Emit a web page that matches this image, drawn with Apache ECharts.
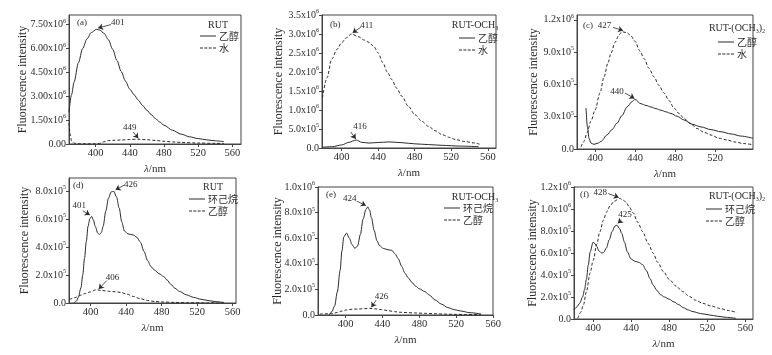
<!DOCTYPE html>
<html>
<head>
<meta charset="utf-8">
<script src="https://cdn.jsdelivr.net/npm/echarts@6/dist/echarts.min.js"></script>
<style>
    html, body { margin: 0; padding: 0; background: #fff; }
    #chart { width: 772px; height: 355px; }
</style>
</head>
<body>
<div id="chart"></div>
<script>
    // wavelength ticks per panel
    const xTicksA = [400, 440, 480, 520, 560]
    const xTicksC = [400, 440, 480, 520]
    // y tick values per panel
    const yTicksA = [0, 1.5e6, 3.0e6, 4.5e6, 6.0e6, 7.5e6]
    const yTicksB = [0, 0.5e6, 1.0e6, 1.5e6, 2.0e6, 2.5e6, 3.0e6, 3.5e6]
    const yTicksC = [0, 0.3e6, 0.6e6, 0.9e6, 1.2e6]
    const yTicksD = [0, 2e5, 4e5, 6e5, 8e5]
    const yTicksE = [0, 2e5, 4e5, 6e5, 8e5, 1e6]
    const yTicksF = [0, 2e5, 4e5, 6e5, 8e5, 1e6, 1.2e6]

    // (a) RUT
    const aEthanol = [[369, 2.0e6], [372, 3.1e6], [375, 3.9e6], [380, 5.1e6], [385, 6.0e6], [390, 6.6e6], [395, 7.0e6], [401, 7.2e6], [405, 7.15e6], [410, 6.95e6], [415, 6.55e6], [420, 5.95e6], [425, 5.25e6], [430, 4.55e6], [435, 3.95e6], [440, 3.45e6], [445, 3.1e6], [450, 2.75e6], [455, 2.42e6], [460, 2.12e6], [465, 1.85e6], [470, 1.6e6], [475, 1.38e6], [480, 1.18e6], [490, 0.86e6], [500, 0.62e6], [510, 0.45e6], [520, 0.34e6], [530, 0.26e6], [540, 0.2e6], [550, 0.15e6]]
    const aWater = [[369, 1.3e6], [370.5, 0.6e6], [372, 0.2e6], [375, 0.05e6], [380, 0.02e6], [390, 0.01e6], [400, 0.01e6], [405, 0.04e6], [410, 0.14e6], [415, 0.21e6], [420, 0.23e6], [430, 0.25e6], [440, 0.28e6], [449, 0.3e6], [460, 0.27e6], [470, 0.22e6], [480, 0.17e6], [490, 0.13e6], [500, 0.1e6], [520, 0.06e6], [540, 0.04e6], [550, 0.03e6]]
    // (b) RUT-OCH3
    const bEthanol = [[379, 0.02e6], [390, 0.035e6], [400, 0.08e6], [408, 0.15e6], [416, 0.21e6], [422, 0.15e6], [430, 0.13e6], [440, 0.145e6], [452, 0.16e6], [466, 0.14e6], [480, 0.11e6], [495, 0.09e6], [510, 0.07e6], [530, 0.05e6], [550, 0.035e6]]
    const bWater = [[379, 1.32e6], [384, 1.85e6], [389, 2.33e6], [395, 2.6e6], [400, 2.77e6], [405, 2.9e6], [411, 3.0e6], [418, 2.93e6], [425, 2.84e6], [430, 2.78e6], [435, 2.68e6], [440, 2.5e6], [445, 2.25e6], [450, 2.0e6], [455, 1.8e6], [460, 1.58e6], [466, 1.36e6], [473, 1.1e6], [480, 0.88e6], [488, 0.7e6], [495, 0.57e6], [503, 0.45e6], [510, 0.35e6], [518, 0.28e6], [525, 0.22e6], [535, 0.17e6], [546, 0.13e6], [551, 0.1e6]]
    // (c) RUT-(OCH3)2
    const cEthanol = [[391, 0.38e6], [392.5, 0.2e6], [394, 0.1e6], [396, 0.055e6], [399, 0.043e6], [403, 0.055e6], [406, 0.07e6], [412, 0.13e6], [417, 0.18e6], [422, 0.24e6], [427, 0.31e6], [432, 0.39e6], [437, 0.44e6], [440, 0.46e6], [446, 0.42e6], [451, 0.405e6], [456, 0.39e6], [461, 0.375e6], [466, 0.36e6], [471, 0.345e6], [476, 0.33e6], [482, 0.305e6], [489, 0.27e6], [497, 0.23e6], [506, 0.205e6], [516, 0.18e6], [526, 0.16e6], [536, 0.14e6], [546, 0.12e6], [558, 0.1e6]]
    const cWater = [[386, 0.02e6], [389, 0.07e6], [392, 0.15e6], [396, 0.26e6], [400, 0.36e6], [405, 0.52e6], [409, 0.67e6], [413, 0.8e6], [416, 0.89e6], [420, 0.99e6], [424, 1.06e6], [427, 1.09e6], [432, 1.08e6], [436, 1.05e6], [440, 1.0e6], [445, 0.91e6], [449, 0.84e6], [454, 0.75e6], [459, 0.67e6], [464, 0.59e6], [469, 0.52e6], [474, 0.45e6], [479, 0.38e6], [484, 0.33e6], [489, 0.285e6], [495, 0.24e6], [502, 0.19e6], [509, 0.155e6], [516, 0.13e6], [524, 0.1e6], [532, 0.084e6], [540, 0.065e6], [549, 0.05e6], [558, 0.04e6]]
    // (d) RUT
    const dCyclo = [[381, 0], [384, 0.15e5], [386, 0.4e5], [389, 1.1e5], [391, 2.0e5], [393, 3.2e5], [395, 4.4e5], [397, 5.5e5], [399, 6.05e5], [401, 6.2e5], [403, 5.95e5], [405, 5.5e5], [408, 5.0e5], [410, 4.9e5], [412, 5.05e5], [414, 5.5e5], [417, 6.6e5], [420, 7.5e5], [423, 7.95e5], [426, 8.0e5], [429, 7.6e5], [432, 6.8e5], [435, 5.8e5], [438, 5.15e5], [442, 4.95e5], [448, 4.87e5], [452, 4.7e5], [456, 4.35e5], [460, 3.7e5], [464, 3.05e5], [468, 2.6e5], [472, 2.35e5], [477, 2.1e5], [482, 1.9e5], [486, 1.65e5], [490, 1.35e5], [495, 1.05e5], [500, 0.83e5], [508, 0.58e5], [516, 0.4e5], [524, 0.27e5], [531, 0.19e5], [540, 0.1e5], [550, 0.04e5]]
    const dEthanol = [[376, 0.24e5], [382, 0.38e5], [388, 0.55e5], [394, 0.68e5], [400, 0.8e5], [406, 0.95e5], [412, 0.9e5], [420, 0.84e5], [428, 0.8e5], [434, 0.76e5], [440, 0.65e5], [448, 0.47e5], [456, 0.3e5], [464, 0.18e5], [472, 0.11e5], [482, 0.07e5], [495, 0.04e5], [510, 0.02e5], [530, 0.01e5], [550, 0]]
    // (e) RUT-OCH3
    const eCyclo = [[382, 0], [385, 0.25e5], [388, 0.7e5], [391, 1.8e5], [394, 3.5e5], [396, 5.0e5], [398, 6.1e5], [401, 6.4e5], [404, 6.0e5], [407, 5.5e5], [410, 5.2e5], [413, 5.4e5], [416, 6.3e5], [419, 7.5e5], [422, 8.25e5], [424, 8.45e5], [426, 8.2e5], [428, 7.6e5], [431, 6.6e5], [434, 5.8e5], [437, 5.4e5], [441, 5.2e5], [446, 5.1e5], [450, 5.05e5], [454, 4.75e5], [457, 4.4e5], [461, 3.8e5], [464, 3.3e5], [468, 2.9e5], [472, 2.55e5], [476, 2.25e5], [480, 2.05e5], [486, 1.83e5], [491, 1.55e5], [497, 1.18e5], [504, 0.85e5], [511, 0.58e5], [518, 0.42e5], [525, 0.31e5], [535, 0.18e5], [547, 0.08e5]]
    const eEthanol = [[372, 0.08e5], [385, 0.1e5], [391, 0.2e5], [396, 0.31e5], [401, 0.4e5], [407, 0.45e5], [414, 0.47e5], [420, 0.49e5], [426, 0.52e5], [432, 0.48e5], [439, 0.42e5], [446, 0.34e5], [453, 0.26e5], [460, 0.21e5], [468, 0.18e5], [475, 0.16e5], [486, 0.13e5], [497, 0.1e5], [508, 0.07e5], [518, 0.05e5], [530, 0.04e5], [547, 0.03e5]]
    // (f) RUT-(OCH3)2
    const fCyclo = [[380, 0.82e5], [383, 1.1e5], [386, 1.43e5], [389, 2.0e5], [391, 2.65e5], [393, 3.6e5], [395, 4.9e5], [397, 6.1e5], [400, 6.98e5], [402, 6.85e5], [404, 6.6e5], [406, 6.2e5], [409, 6.0e5], [411, 6.05e5], [414, 6.45e5], [417, 7.2e5], [420, 7.95e5], [423, 8.45e5], [425, 8.53e5], [428, 8.2e5], [430, 7.8e5], [433, 7.0e5], [436, 6.1e5], [440, 5.45e5], [444, 5.25e5], [448, 5.15e5], [452, 4.95e5], [456, 4.4e5], [460, 3.65e5], [463, 3.1e5], [467, 2.6e5], [471, 2.2e5], [475, 2.0e5], [480, 1.8e5], [485, 1.55e5], [490, 1.3e5], [495, 1.02e5], [500, 0.82e5], [505, 0.67e5], [513, 0.5e5], [522, 0.37e5], [531, 0.25e5], [540, 0.15e5], [550, 0.06e5]]
    const fEthanol = [[384, 0.06e5], [387, 0.6e5], [390, 1.3e5], [393, 2.5e5], [397, 4.2e5], [400, 5.3e5], [404, 6.8e5], [407, 7.9e5], [411, 9.0e5], [414, 9.7e5], [418, 10.3e5], [422, 10.7e5], [428, 10.96e5], [432, 10.8e5], [435, 10.57e5], [438, 10.2e5], [442, 9.66e5], [447, 8.8e5], [452, 7.95e5], [458, 6.85e5], [463, 6.0e5], [468, 5.15e5], [474, 4.3e5], [480, 3.6e5], [487, 3.0e5], [494, 2.5e5], [501, 2.05e5], [508, 1.7e5], [515, 1.43e5], [524, 1.18e5], [533, 0.97e5], [542, 0.77e5], [551, 0.58e5]]

    // peak notes: text, text place, arrow start, arrow end
    const aNotes = [['401', [426, 7.6e6], [418, 7.5e6], [403, 7.28e6]], ['449', [440, 1.0e6], [444, 0.75e6], [450, 0.36e6]]]
    const bNotes = [['411', [427.5, 3.22e6], [421, 3.18e6], [412, 3.03e6]], ['416', [420, 0.56e6], [410, 0.42e6], [415.5, 0.24e6]]]
    const cNotes = [['427', [409.5, 1.146e6], [418, 1.13e6], [428, 1.1e6]], ['440', [422, 0.532e6], [430, 0.52e6], [439.5, 0.47e6]]]
    const dNotes = [['401', [387, 6.97e5], [391, 6.6e5], [399, 6.3e5]], ['426', [445, 8.5e5], [438, 8.45e5], [428, 8.1e5]], ['406', [424.5, 1.79e5], [418, 1.6e5], [409, 1.0e5]]]
    const eNotes = [['424', [404.5, 9.1e5], [412, 8.9e5], [422, 8.55e5]], ['426', [439, 1.43e5], [433, 1.15e5], [428, 0.6e5]]]
    const fNotes = [['428', [407.5, 1.152e6], [416, 1.14e6], [427, 1.105e6]], ['425', [433.5, 0.945e6], [430, 0.9e6], [426, 0.87e6]]]

    const serif = 'Liberation Serif'
    const cjk = 'Noto Sans CJK SC'
    const ink = '#2b2b2b'
    // legend samples: a thin bar, or a row of short dashes
    const solidIcon = 'path://M0,0h16v1h-16z'
    const dashIcon = 'path://M0,0h3v1h-3zM4.3,0h3v1h-3zM8.6,0h3v1h-3zM12.9,0h3v1h-3z'

    function sci(v, d) {
        if (v === 0) return '{m|' + (0).toFixed(d) + '}'
        const e = Math.floor(Math.log10(v) + 1e-9)
        const m = v / Math.pow(10, e)
        return '{m|' + m.toFixed(d) + 'x10}{e|' + e + '}'
    }

    function subRich() {
        return {
            n: { fontFamily: serif, fontSize: 10, fontWeight: 'normal', color: ink },
            s: { fontFamily: serif, fontSize: 6, fontWeight: 'normal', color: ink, verticalAlign: 'bottom', padding: [5, 0, 0, 0] }
        }
    }

    const panels = [
        { tag: '(a)', title: '{n|RUT}', names: ['乙醇', '水'], lines: [aEthanol, aWater], dash: [false, true], notes: aNotes,
          box: [69, 15, 172, 129], x: [369, 570], y: [0, 8.1e6], xt: xTicksA, yt: yTicksA, dec: 2, gap: 40,
          tagAt: [77, 18], titleAt: [218, 20], legAt: [200, 31] },
        { tag: '(b)', title: '{n|RUT-OCH}{s|3}', names: ['乙醇', '水'], lines: [bEthanol, bWater], dash: [false, true], notes: bNotes,
          box: [322, 15, 174, 133], x: [378.5, 569], y: [0, 3.5e6], xt: xTicksA, yt: yTicksB, dec: 1, gap: 37,
          tagAt: [330, 20], titleAt: [475, 20], legAt: [459, 33] },
        { tag: '(c)', title: '{n|RUT-(OCH}{s|3}{n|)}{s|2}', names: ['乙醇', '水'], lines: [cEthanol, cWater], dash: [false, true], notes: cNotes,
          box: [577, 15, 176, 134], x: [382, 558], y: [0, 1.245e6], xt: xTicksC, yt: yTicksC, dec: 1, gap: 37,
          tagAt: [583, 21], titleAt: [737, 23], legAt: [718, 37] },
        { tag: '(d)', title: '{n|RUT}', names: ['环己烷', '乙醇'], lines: [dCyclo, dEthanol], dash: [false, true], notes: dNotes,
          box: [69, 178, 167, 125], x: [375.5, 563.7], y: [0, 8.95e5], xt: xTicksA, yt: yTicksD, dec: 1, gap: 38,
          tagAt: [73, 181], titleAt: [213, 182], legAt: [189, 194] },
        { tag: '(e)', title: '{n|RUT-OCH}{s|3}', names: ['环己烷', '乙醇'], lines: [eCyclo, eEthanol], dash: [false, true], notes: eNotes,
          box: [318, 187, 175, 128], x: [370, 560], y: [0, 1e6], xt: xTicksA, yt: yTicksE, dec: 1, gap: 34,
          tagAt: [326, 190], titleAt: [475, 192], legAt: [444, 203] },
        { tag: '(f)', title: '{n|RUT-(OCH}{s|3}{n|)}{s|2}', names: ['环己烷', '乙醇'], lines: [fCyclo, fEthanol], dash: [false, true], notes: fNotes,
          box: [574, 187, 179, 132], x: [380, 568], y: [0, 1.2e6], xt: xTicksA, yt: yTicksF, dec: 1, gap: 35,
          tagAt: [580, 190], titleAt: [737, 191], legAt: [706, 204] }
    ]

    const grid = [], xAxis = [], yAxis = [], series = [], title = [], legend = []

    panels.forEach((p, i) => {
        grid.push({ left: p.box[0], top: p.box[1], width: p.box[2], height: p.box[3], show: true, borderColor: '#444', borderWidth: 1 })
        xAxis.push({
            gridIndex: i, type: 'value', min: p.x[0], max: p.x[1],
            axisLine: { show: true, lineStyle: { color: '#444', width: 1 } },
            axisTick: { show: true, length: 3, customValues: p.xt, lineStyle: { color: '#444' } },
            axisLabel: { customValues: p.xt, fontFamily: serif, fontSize: 10.5, color: ink, margin: 4 },
            splitLine: { show: false },
            name: '{i|λ}{t|/nm}', nameLocation: 'middle', nameGap: 20, nameMoveOverlap: false,
            nameTextStyle: { rich: { i: { fontFamily: serif, fontStyle: 'italic', fontSize: 11, color: ink }, t: { fontFamily: serif, fontSize: 11, color: ink } } }
        })
        yAxis.push({
            gridIndex: i, type: 'value', min: p.y[0], max: p.y[1],
            axisLine: { show: true, lineStyle: { color: '#444', width: 1 } },
            axisTick: { show: true, length: 3, customValues: p.yt, lineStyle: { color: '#444' } },
            axisLabel: {
                customValues: p.yt, margin: 3,
                formatter: v => sci(v, p.dec),
                rich: {
                    m: { fontFamily: serif, fontSize: 10, color: ink, lineHeight: 13 },
                    e: { fontFamily: serif, fontSize: 6, color: ink, verticalAlign: 'top', lineHeight: 8 }
                }
            },
            splitLine: { show: false },
            name: 'Fluorescence intensity', nameLocation: 'middle', nameGap: p.gap, nameMoveOverlap: false,
            nameTextStyle: { fontFamily: serif, fontSize: 12, color: ink }
        })
        title.push({ text: p.tag, left: p.tagAt[0], top: p.tagAt[1], padding: 0, textStyle: { fontFamily: serif, fontSize: 9, fontWeight: 'normal', color: ink } })
        title.push({ text: p.title, left: p.titleAt[0], top: p.titleAt[1], padding: 0, textAlign: 'center', textStyle: { fontFamily: serif, fontSize: 10, fontWeight: 'normal', color: ink, rich: subRich() } })
        legend.push({
            left: p.legAt[0], top: p.legAt[1], orient: 'vertical', padding: 0, itemGap: 2,
            itemWidth: 16, itemHeight: 9, selectedMode: false,
            textStyle: { fontFamily: cjk, fontSize: 10, color: ink, padding: [0, 0, 0, -2] },
            data: p.names.map((n, k) => ({ name: n, icon: p.dash[k] ? dashIcon : solidIcon, itemStyle: { color: ink, borderWidth: 0 } }))
        })
        p.lines.forEach((d, k) => {
            const s = {
                name: p.names[k], type: 'line', xAxisIndex: i, yAxisIndex: i, data: d,
                symbol: 'none', showSymbol: false, smooth: 0.3, smoothMonotone: 'x',
                color: ink,
                lineStyle: { width: 1, color: ink, type: p.dash[k] ? [3, 2] : 'solid' },
                silent: true
            }
            if (k === 0) {
                s.markLine = {
                    silent: true, symbol: ['none', 'arrow'], symbolSize: 5,
                    label: { show: false },
                    lineStyle: { color: ink, width: 0.8, type: 'solid' },
                    data: p.notes.map(n => [{ coord: n[2] }, { coord: n[3] }])
                }
                s.markPoint = {
                    silent: true, symbol: 'circle', symbolSize: 0,
                    label: { show: true, position: 'inside', fontFamily: serif, fontSize: 9, color: ink, formatter: q => q.name },
                    data: p.notes.map(n => ({ name: n[0], coord: n[1] }))
                }
            }
            series.push(s)
        })
    })

    const chart = echarts.init(document.getElementById('chart'))
    chart.setOption({
        animation: false,
        backgroundColor: '#fff',
        title: title,
        legend: legend,
        grid: grid,
        xAxis: xAxis,
        yAxis: yAxis,
        series: series
    })
</script>
</body>
</html>
